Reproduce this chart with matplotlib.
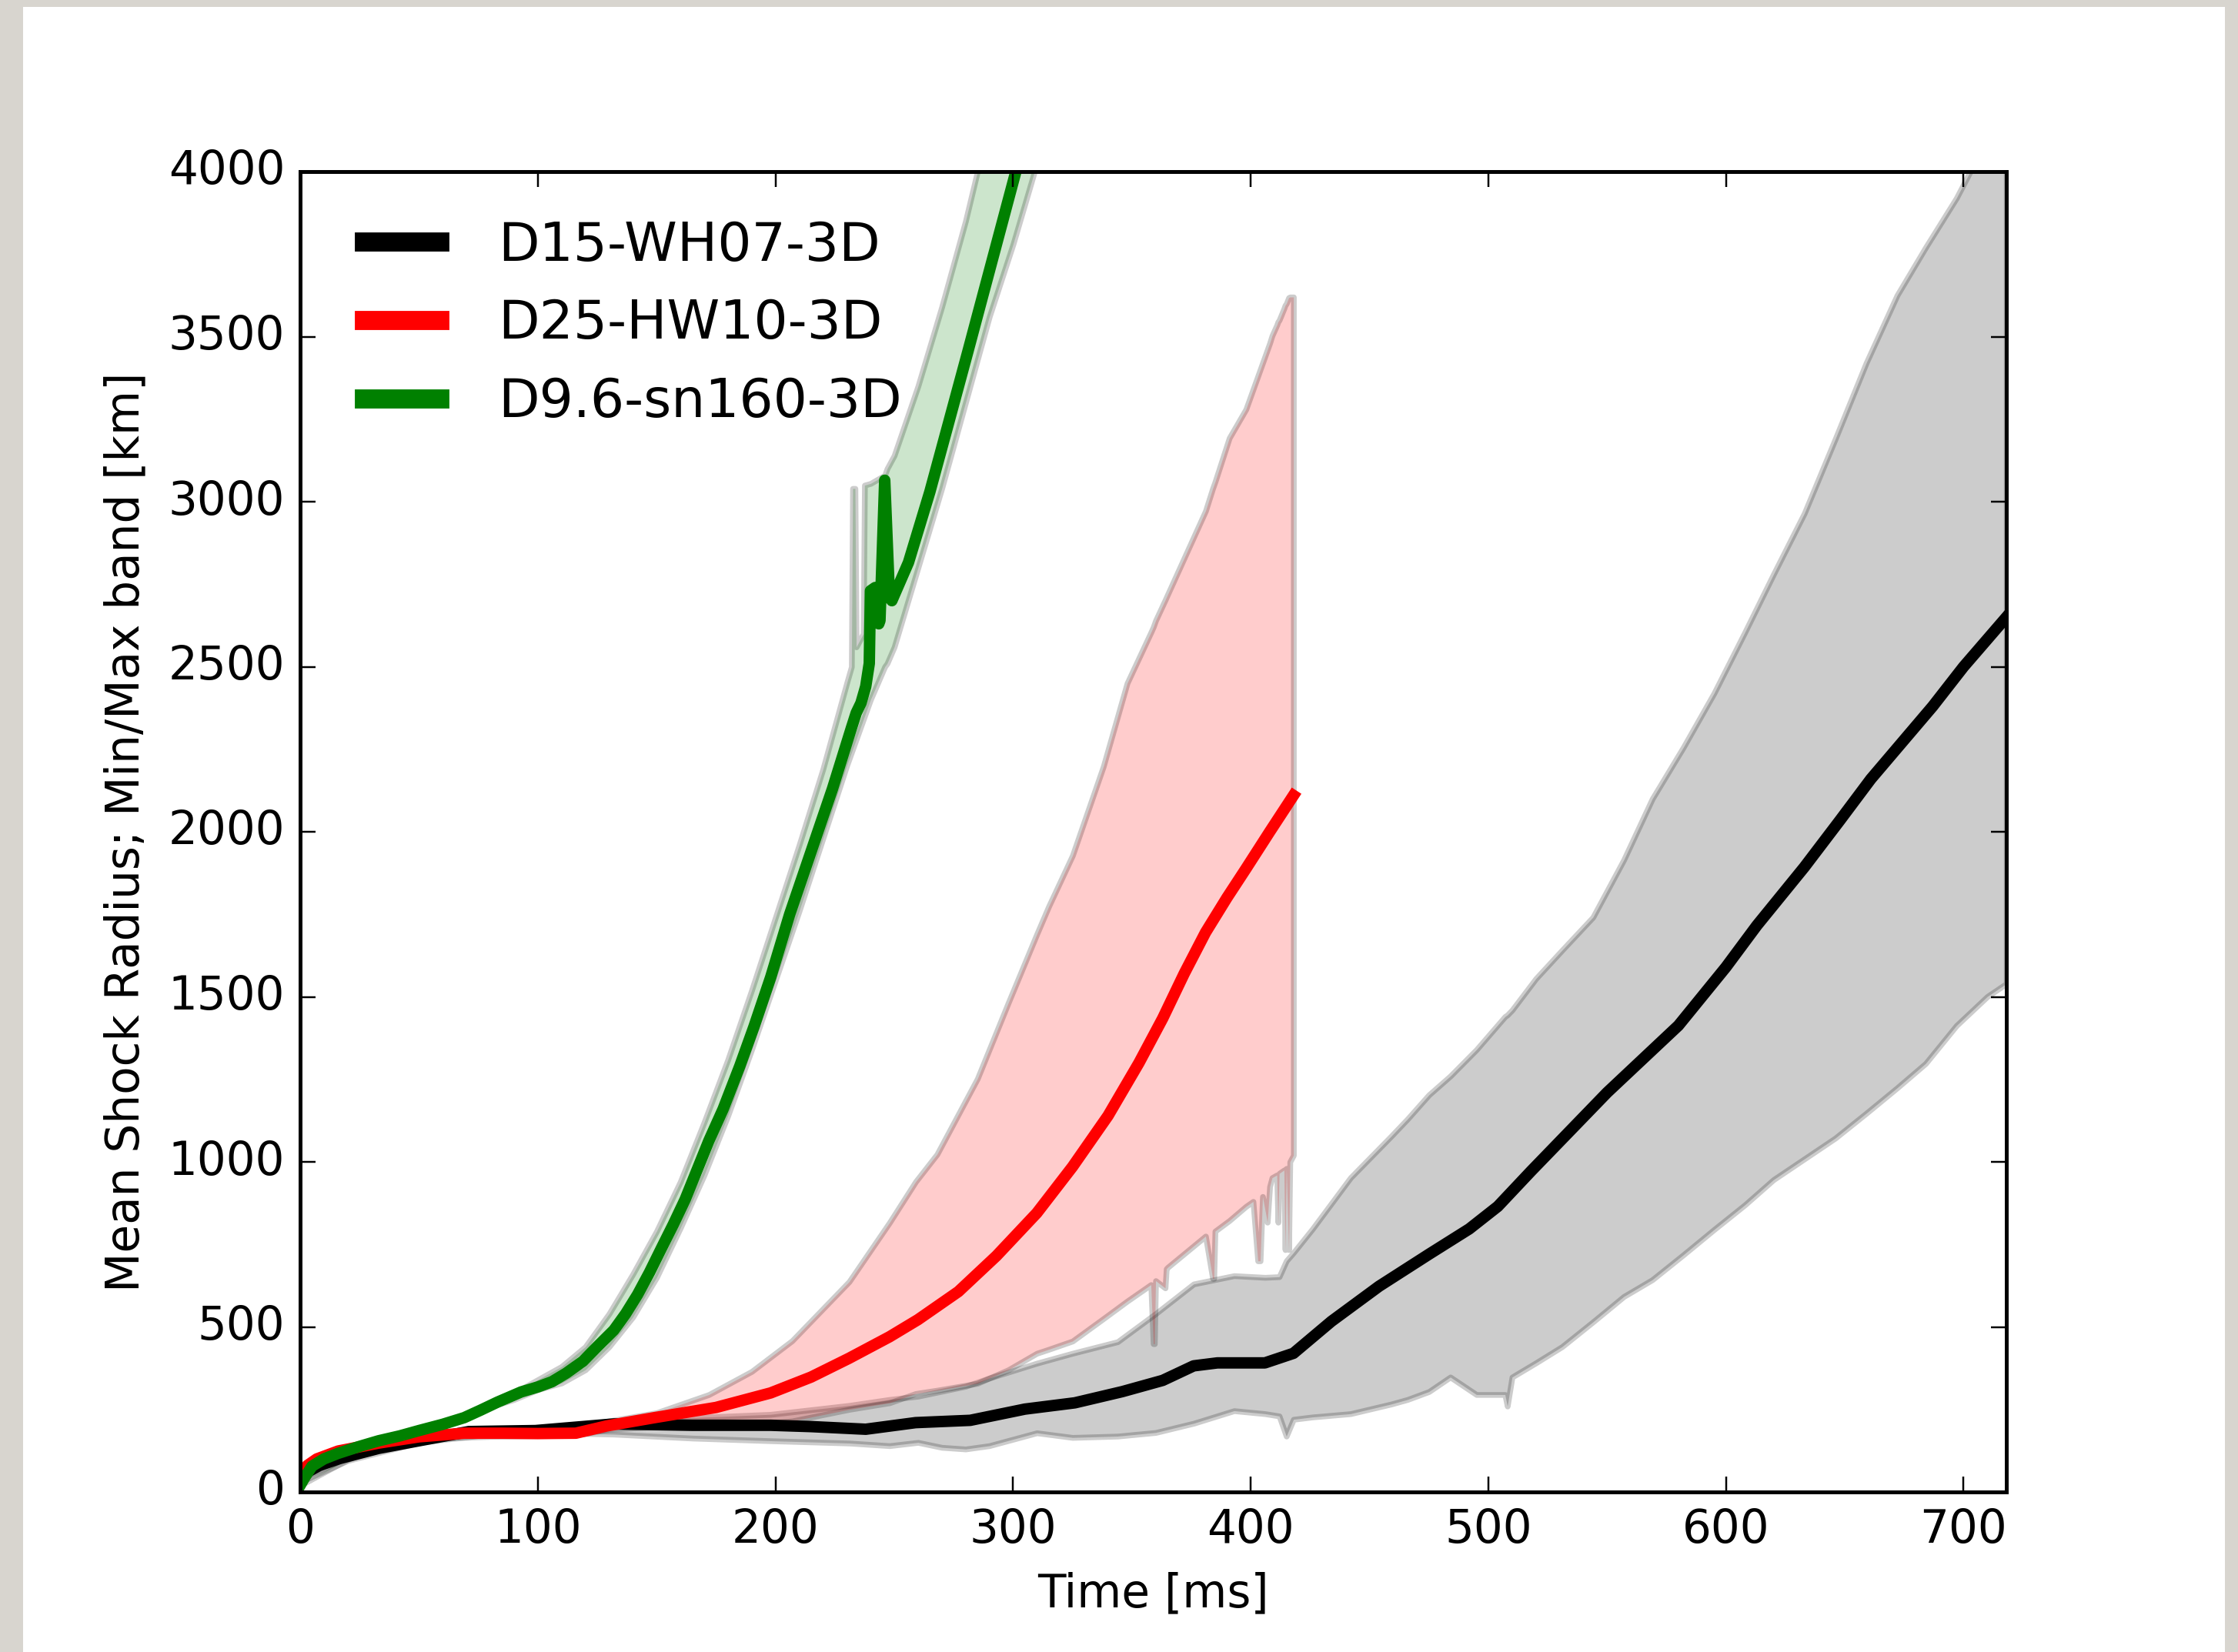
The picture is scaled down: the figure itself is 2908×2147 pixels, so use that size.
import matplotlib
matplotlib.use("Agg")
import matplotlib.pyplot as plt
from matplotlib.patches import Rectangle

plt.style.use("classic")
plt.rcParams["font.family"] = ["DejaVu Sans"]

# D15-WH07-3D: mean shock radius and min/max band
t_d15 = [0, 3, 8, 16.5, 33, 50, 71, 99, 132, 165, 198, 215, 238, 259, 282, 305, 326,
         346, 363, 376, 386, 406, 418, 434, 454, 475, 492, 504, 518, 550, 580, 600,
         613, 633, 648, 661, 674, 687, 700, 718]
r_d15 = [30, 60, 80, 101, 132, 155, 183, 186, 206, 202, 202, 198, 190, 210, 217, 251,
         270, 304, 338, 382, 391, 391, 420, 517, 623, 720, 797, 865, 972, 1210, 1413,
         1590, 1716, 1893, 2035, 2160, 2270, 2380, 2500, 2650]
tb_d15 = [0, 20, 50, 80, 100, 132, 165, 198, 231, 248, 260, 270, 280, 290, 310, 325,
          344, 360, 376, 393, 406, 412, 415, 418, 426, 442, 459, 466, 475, 484, 495,
          507, 508, 510, 520, 531, 544, 557, 569, 582, 595, 608, 620, 633, 646, 659,
          672, 684, 697, 710, 718]
lo_d15 = [30, 95, 150, 175, 180, 175, 163, 155, 148, 140, 150, 135, 130, 140, 179, 165,
          169, 180, 208, 246, 237, 230, 169, 220, 227, 237, 266, 280, 304, 348, 295,
          295, 260, 348, 391, 440, 515, 592, 643, 718, 795, 870, 946, 1009, 1072, 1147,
          1224, 1298, 1413, 1501, 1540]
hi_d15 = [30, 100, 160, 185, 190, 212, 225, 235, 262, 280, 290, 305, 320, 345, 390, 420,
          455, 540, 630, 655, 650, 652, 700, 725, 797, 952, 1077, 1130, 1203, 1260, 1340,
          1440, 1445, 1460, 1555, 1641, 1741, 1915, 2100, 2255, 2420, 2605, 2780, 2965,
          3190, 3420, 3625, 3770, 3920, 4100, 4200]

# D25-HW10-3D
t_d25 = [0, 3, 7, 16, 33, 50, 69, 85, 100, 116, 129, 149, 175, 198, 215, 231, 248, 260,
         277, 293, 310, 325, 340, 353, 363, 372, 381, 390, 398, 408, 418]
r_d25 = [40, 80, 100, 124, 148, 167, 178, 178, 177, 178, 200, 225, 256, 300, 348, 405,
         470, 522, 607, 715, 845, 985, 1140, 1300, 1435, 1570, 1695, 1800, 1888, 2000, 2110]
tb_d25 = [0, 20, 50, 80, 100, 116, 130, 150, 172, 190, 207, 231, 248, 259, 268, 285, 298,
          310, 315, 325, 338, 348, 358, 359, 359.5, 360, 364, 364.5, 365, 381, 384, 384.5,
          385, 391, 398, 401, 403, 404, 405, 407, 408, 409, 411, 411.5, 412, 414, 414.5,
          415, 416, 416.5, 418]
lo_d25 = [40, 115, 160, 168, 170, 172, 190, 198, 200, 203, 215, 250, 270, 298, 308, 329,
          370, 420, 432, 457, 525, 578, 628, 449, 449, 640, 618, 676, 680, 775, 647, 647,
          790, 822, 865, 880, 700, 700, 895, 817, 925, 952, 960, 817, 965, 975, 734, 980,
          734, 1000, 1020]
hi_d25 = [40, 125, 170, 180, 190, 200, 215, 240, 295, 365, 458, 637, 816, 940, 1023, 1252,
          1482, 1690, 1774, 1928, 2198, 2450, 2604, 2620, 2630, 2640, 2702, 2710, 2718,
          2972, 3040, 3050, 3060, 3193, 3280, 3340, 3380, 3400, 3420, 3460, 3480, 3503,
          3535, 3545, 3550, 3585, 3595, 3600, 3618, 3620, 3620]

# D9.6-sn160-3D
t_d96 = [0, 2, 5, 10, 16, 25, 33, 42, 50, 60, 69, 76, 83, 93, 100, 106, 112, 119, 125,
         132, 137, 142, 147, 152, 157, 162, 167, 172, 178, 185, 191, 198, 206, 215, 224,
         232, 234, 236, 238, 239.5, 240, 242, 243.5, 244, 246, 248, 249, 256, 265, 273,
         281, 291, 301, 305]
r_d96 = [20, 45, 78, 100, 117, 138, 155, 170, 186, 205, 225, 248, 272, 303, 318, 334, 360,
         396, 440, 490, 540, 598, 665, 738, 810, 886, 975, 1064, 1160, 1290, 1410, 1559,
         1750, 1940, 2130, 2315, 2360, 2390, 2440, 2510, 2730, 2740, 2630, 2640, 3065,
         2710, 2700, 2816, 3030, 3242, 3455, 3725, 3995, 4100]
tb_d96 = [0, 20, 50, 80, 90, 100, 110, 120, 130, 140, 150, 160, 170, 180, 190, 200, 210,
          220, 230, 232, 232.5, 233.5, 234, 237, 237.5, 240, 246, 247, 250, 260, 270, 280,
          285, 290, 300, 309, 312]
lo_d96 = [20, 98, 184, 258, 280, 310, 330, 370, 440, 530, 650, 800, 960, 1140, 1340, 1550,
          1760, 1980, 2200, 2240, 2250, 2270, 2280, 2340, 2350, 2400, 2500, 2510, 2560,
          2800, 3040, 3300, 3430, 3560, 3780, 4000, 4080]
hi_d96 = [20, 102, 186, 262, 300, 340, 380, 440, 540, 660, 790, 940, 1120, 1310, 1520, 1740,
          1960, 2190, 2450, 2500, 3040, 3040, 2560, 2600, 3050, 3055, 3080, 3100, 3140,
          3350, 3590, 3850, 4000, 4150, 4400, 4600, 4700]

DPI = 357.6
fig = plt.figure(figsize=(2909 / DPI, 2147 / DPI), dpi=DPI, facecolor="#d8d5cf")
# white page sitting on the grey card
fig.add_artist(Rectangle((30 / 2909, 0), 2861 / 2909, 2138 / 2147,
                         transform=fig.transFigure, facecolor="white",
                         edgecolor="none", zorder=-10))

ax = fig.add_axes([390 / 2909, 1 - 1939 / 2147, 2217 / 2909, 1716 / 2147])

ax.fill_between(tb_d15, lo_d15, hi_d15, facecolor="k", edgecolor="k", alpha=0.2, lw=1.5)
ax.fill_between(tb_d25, lo_d25, hi_d25, facecolor="r", edgecolor="k", alpha=0.2, lw=1.5)
ax.fill_between(tb_d96, lo_d96, hi_d96, facecolor="g", edgecolor="k", alpha=0.2, lw=1.5)

ax.plot(t_d15, r_d15, color="k", lw=3, label="D15-WH07-3D")
ax.plot(t_d25, r_d25, color="r", lw=3, label="D25-HW10-3D")
ax.plot(t_d96, r_d96, color="g", lw=3, label="D9.6-sn160-3D")

ax.set_xlim(0, 718)
ax.set_ylim(0, 4000)
ax.set_xticks(range(0, 701, 100))
ax.set_yticks(range(0, 4001, 500))
ax.set_xlabel("Time [ms]", fontsize=12)
ax.set_ylabel("Mean Shock Radius; Min/Max band [km]", fontsize=12)

leg = ax.legend(loc="upper left", frameon=False, fontsize=14, handlelength=2.0,
                handletextpad=0.8, labelspacing=0.5, borderaxespad=0.5)
for h in leg.get_lines():
    h.set_linewidth(5)

fig.savefig("out.png", dpi=DPI, facecolor=fig.get_facecolor())
